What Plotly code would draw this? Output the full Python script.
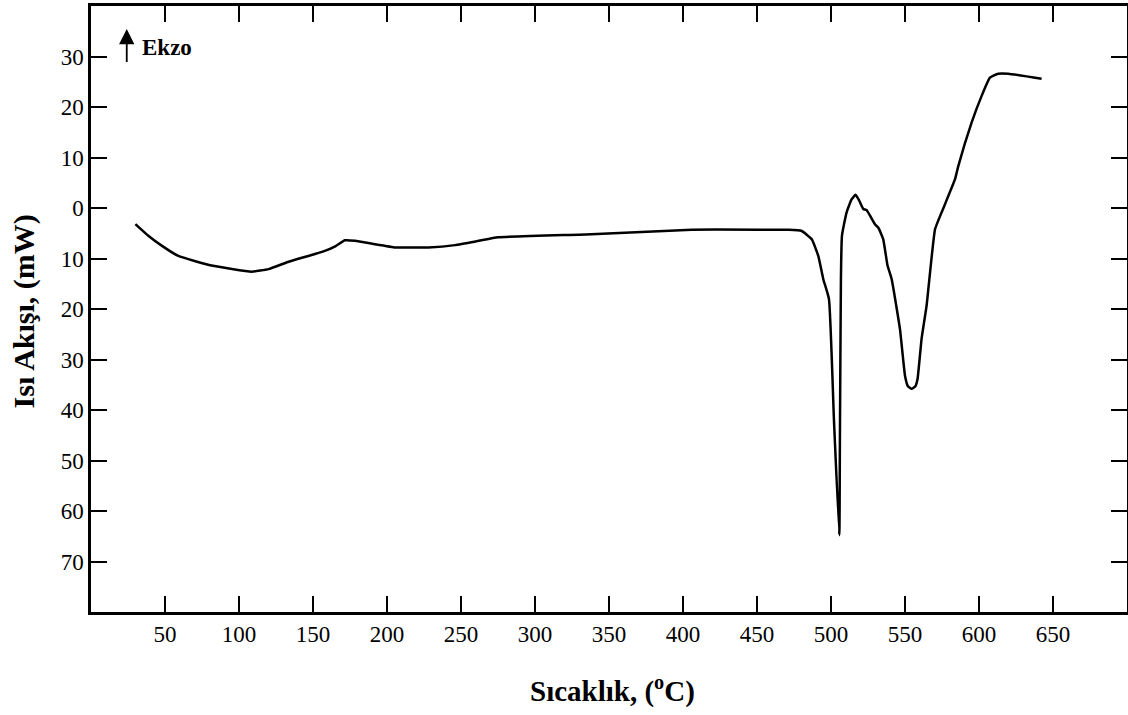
import plotly.graph_objects as go

temperature = [30, 38.7, 48, 59, 81.5, 108.5, 120, 133, 158, 165, 171.6, 178.4, 205, 228, 246, 262, 275,
               338, 406, 458, 471, 480, 487, 491.4, 494.8, 498.6, 502, 505.6, 506, 506.7, 507.4,
               510.5, 513.9, 516.6, 519, 521.8, 524, 529.7, 532, 535.3, 538.2, 541, 546.6, 550,
               552, 554.5, 557, 558.5, 561.2, 564.6, 570.3, 574.7, 583.8, 586, 595, 601.8, 607.4,
               613, 619.8, 642.3]
heat_flow = [-3.2, -5.5, -7.5, -9.5, -11.4, -12.6, -12.1, -10.7, -8.5, -7.6, -6.4, -6.5, -7.8, -7.8, -7.35,
             -6.5, -5.8, -5.2, -4.3, -4.3, -4.3, -4.5, -6.2, -9.5, -14.1, -18.0, -42, -64.8, -47,
             -14.1, -5.5, -0.9, 1.7, 2.6, 1.5, -0.2, -0.4, -3.2, -3.9, -6.2, -11.4, -14.1, -24,
             -33.2, -35.3, -35.8, -35.3, -33.8, -25.9, -19.3, -4.2, -0.9, 5.7, 8.3, 16.9, 22.2,
             25.8, 26.6, 26.6, 25.6]

x_ticks = [50, 100, 150, 200, 250, 300, 350, 400, 450, 500, 550, 600, 650]
y_ticks = [30, 20, 10, 0, -10, -20, -30, -40, -50, -60, -70]
y_tick_text = [str(abs(v)) for v in y_ticks]

x_title = "<b>Sıcaklık, (<sup>o</sup>C)</b>"
y_title = "<b>Isı Akışı, (mW)</b>"

FONT = "Liberation Serif"

fig = go.Figure()
fig.add_trace(go.Scatter(x=temperature, y=heat_flow, mode="lines",
                         line=dict(color="black", width=2.5, shape="spline", smoothing=0.4),
                         showlegend=False, hoverinfo="skip"))

axis_common = dict(showline=True, linecolor="black", linewidth=2.5, mirror="ticks",
                   ticks="inside", ticklen=16, tickwidth=2, tickcolor="black",
                   showgrid=False, zeroline=False, automargin=False,
                   tickfont=dict(family=FONT, size=23, color="black"))

fig.update_xaxes(range=[0, 700], tickvals=x_ticks, **axis_common)
fig.update_yaxes(range=[-80, 40], tickvals=y_ticks, ticktext=y_tick_text, **axis_common)

# axis titles
fig.add_annotation(xref="paper", yref="paper", x=0.503, y=-0.1287, xanchor="center",
                   yanchor="middle", text=x_title, showarrow=False,
                   font=dict(family=FONT, size=29, color="black"))
fig.add_annotation(xref="paper", yref="paper", x=-0.0647, y=0.496, xanchor="center",
                   yanchor="middle", text=y_title, showarrow=False, textangle=-90,
                   font=dict(family=FONT, size=30, color="black"))

# Ekzo arrow
fig.add_annotation(xref="paper", yref="paper", x=0.0345, y=0.962, ax=0, ay=43,
                   text=" ", showarrow=True, arrowhead=2, arrowsize=1.7, arrowwidth=1.8,
                   arrowcolor="black", standoff=0, startstandoff=0)
fig.add_annotation(xref="paper", yref="paper", x=0.047, y=0.931, xanchor="left", yanchor="middle",
                   text="<b>Ekzo</b>", showarrow=False,
                   font=dict(family=FONT, size=23, color="black"))

fig.update_layout(width=1128, height=715, margin=dict(l=91, r=1, t=6, b=103),
                  plot_bgcolor="white", paper_bgcolor="white")

fig.write_html("out.html", config={"displayModeBar": False},
               post_script="document.body.style.margin='0';document.body.style.overflow='hidden';")
